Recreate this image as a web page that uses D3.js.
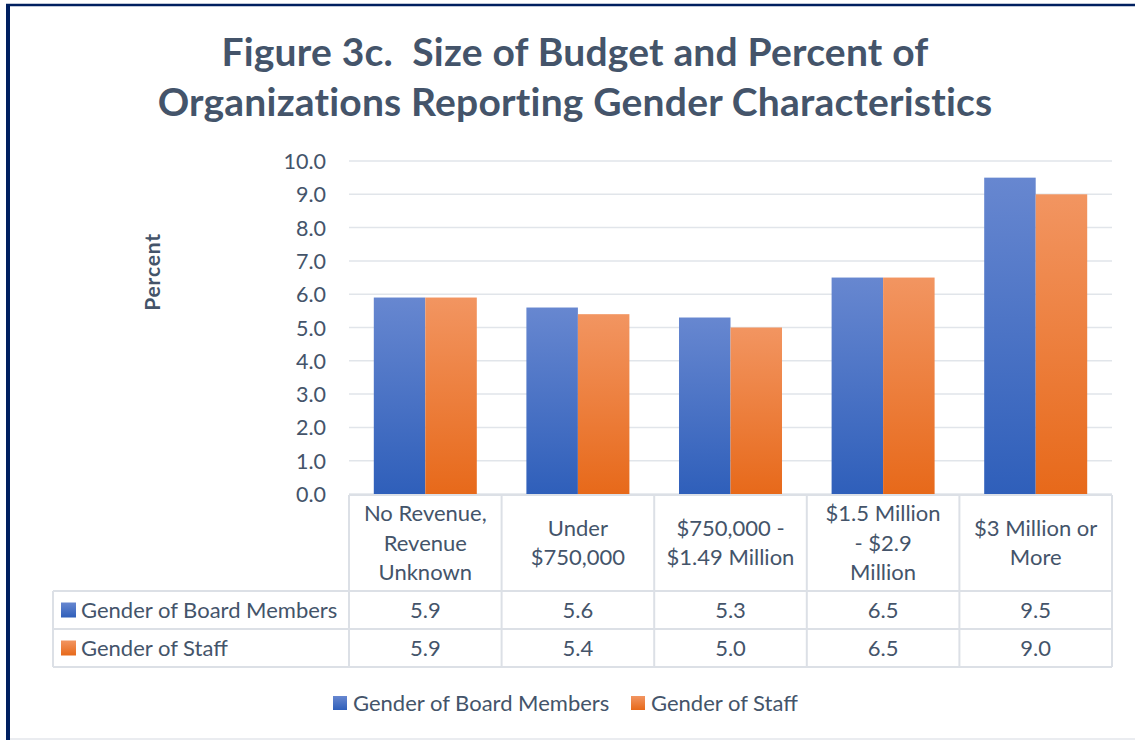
<!DOCTYPE html>
<html>
<head>
<meta charset="utf-8">
<script src="https://cdn.jsdelivr.net/npm/d3@7"></script>
<style>
  html, body { margin: 0; padding: 0; background: #fff; }
  svg { display: block; }
  text { font-family: Lato, "Open Sans", sans-serif; }
</style>
</head>
<body>
<svg id="chart" width="1135" height="740"></svg>
<script>
const categories = [
  ["No Revenue,", "Revenue", "Unknown"],
  ["Under", "$750,000"],
  ["$750,000 -", "$1.49 Million"],
  ["$1.5 Million", "- $2.9", "Million"],
  ["$3 Million or", "More"]
];
const seriesNames = ["Gender of Board Members", "Gender of Staff"];
const boardValues = [5.9, 5.6, 5.3, 6.5, 9.5];
const staffValues = [5.9, 5.4, 5.0, 6.5, 9.0];
const yTicks = [0, 1, 2, 3, 4, 5, 6, 7, 8, 9, 10];
const titleLines = ["Figure 3c.  Size of Budget and Percent of", "Organizations Reporting Gender Characteristics"];

const series = [boardValues, staffValues];
const textColor = "#44546A";
const gridColor = "#E1E5EA";
const fs = 22;

const svg = d3.select("#chart");
const W = 1135, H = 740;

// defs: gradients
const defs = svg.append("defs");
const gradDefs = [
  {id: "gBlue", top: "#6787D0", bottom: "#2F5FBA"},
  {id: "gOrange", top: "#F29561", bottom: "#E7691A"}
];
gradDefs.forEach(g => {
  const lg = defs.append("linearGradient").attr("id", g.id)
    .attr("x1", 0).attr("y1", 0).attr("x2", 0).attr("y2", 1);
  lg.append("stop").attr("offset", "0%").attr("stop-color", g.top);
  lg.append("stop").attr("offset", "100%").attr("stop-color", g.bottom);
});
const fills = ["url(#gBlue)", "url(#gOrange)"];
const legendFills = ["url(#gBlue)", "url(#gOrange)"];

// outer frame
svg.append("rect").attr("x", 0).attr("y", 0).attr("width", W).attr("height", H).attr("fill", "#fff");
svg.append("line").attr("x1", 6).attr("x2", W).attr("y1", 5).attr("y2", 5)
  .attr("stroke", "#002060").attr("stroke-width", 2.5);
svg.append("line").attr("x1", 8).attr("x2", 8).attr("y1", 4).attr("y2", H)
  .attr("stroke", "#002060").attr("stroke-width", 4);
svg.append("line").attr("x1", 10).attr("x2", W).attr("y1", 739).attr("y2", 739)
  .attr("stroke", "#E3E6EB").attr("stroke-width", 1.5);

// title
const title = svg.append("text").attr("text-anchor", "middle")
  .attr("fill", textColor).attr("font-weight", 700).attr("font-size", 39)
  .style("white-space", "pre").attr("letter-spacing", 0.2);
titleLines.forEach((t, i) => {
  title.append("tspan").attr("x", 575).attr("y", 66 + i * 50).text(t);
});

// scales
const plotL = 349, plotR = 1112, plotT = 161, plotB = 494;
const x0 = d3.scaleBand().domain(d3.range(categories.length)).range([plotL, plotR])
  .paddingInner(0.325).paddingOuter(0.1625);
const x1 = d3.scaleBand().domain(d3.range(series.length)).range([0, x0.bandwidth()]);
const y = d3.scaleLinear().domain([0, 10]).range([plotB, plotT]);

// gridlines
svg.append("g").selectAll("line").data(yTicks).join("line")
  .attr("x1", plotL).attr("x2", plotR)
  .attr("y1", d => y(d)).attr("y2", d => y(d))
  .attr("stroke", gridColor).attr("stroke-width", 1.5);

// y axis via d3.axisLeft
const yAxis = d3.axisLeft(y).tickValues(yTicks).tickFormat(d3.format(".1f")).tickSize(0).tickPadding(0);
const yg = svg.append("g").attr("transform", `translate(326,0)`).call(yAxis);
yg.select(".domain").remove();
yg.selectAll("text").attr("fill", textColor).attr("font-size", 21.5)
  .attr("font-family", "Lato, 'Open Sans', sans-serif").attr("dy", "0.35em");

// y title
svg.append("text").attr("transform", "translate(160,272) rotate(-90)")
  .attr("text-anchor", "middle").attr("fill", textColor)
  .attr("font-weight", 700).attr("font-size", 21).attr("letter-spacing", 0.8).text("Percent");

// bars
const groups = svg.append("g").selectAll("g").data(categories).join("g")
  .attr("transform", (d, i) => `translate(${x0(i)},0)`);
groups.selectAll("rect").data((d, i) => series.map((s, j) => ({j, v: s[i]}))).join("rect")
  .attr("x", d => x1(d.j)).attr("width", x1.bandwidth())
  .attr("y", d => y(d.v)).attr("height", d => y(0) - y(d.v))
  .attr("fill", d => fills[d.j]);

// data table
const tblL = 53, tblT = 495, hdrB = 591, rowH = 38;
const tbl = svg.append("g");
const stroke = "#DCE0E6";
const colEdges = [plotL].concat(d3.range(categories.length).map(i => x0(0) - x0.step() * x0.paddingOuter() + x0.step() * (i + 1)));
const tblB = hdrB + rowH * series.length;
colEdges.forEach(xe => {
  tbl.append("line").attr("x1", xe).attr("x2", xe).attr("y1", tblT).attr("y2", tblB)
    .attr("stroke", stroke).attr("stroke-width", 2);
});
tbl.append("line").attr("x1", tblL).attr("x2", tblL).attr("y1", hdrB).attr("y2", tblB)
  .attr("stroke", stroke).attr("stroke-width", 2);
tbl.append("line").attr("x1", plotL).attr("x2", plotR).attr("y1", tblT).attr("y2", tblT)
  .attr("stroke", stroke).attr("stroke-width", 2);
d3.range(series.length + 1).forEach(k => {
  const yy = hdrB + k * rowH;
  tbl.append("line").attr("x1", tblL).attr("x2", plotR).attr("y1", yy).attr("y2", yy)
    .attr("stroke", stroke).attr("stroke-width", 2);
});
// header labels
categories.forEach((lines, i) => {
  const cx = x0(i) + x0.bandwidth() / 2;
  const cy = (tblT + hdrB) / 2;
  const lh = 29.5;
  const t = tbl.append("text").attr("text-anchor", "middle").attr("fill", textColor).attr("font-size", fs);
  lines.forEach((ln, k) => {
    t.append("tspan").attr("x", cx).attr("y", cy + (k - (lines.length - 1) / 2) * lh).attr("dy", "0.35em").text(ln);
  });
});
// rows
series.forEach((s, j) => {
  const cy = hdrB + j * rowH + rowH / 2;
  tbl.append("rect").attr("x", 61).attr("y", cy - 7.5).attr("width", 15).attr("height", 15).attr("fill", legendFills[j]);
  tbl.append("text").attr("x", 81).attr("y", cy).attr("dy", "0.35em").attr("fill", textColor)
    .attr("font-size", fs).text(seriesNames[j]);
  s.forEach((v, i) => {
    tbl.append("text").attr("x", x0(i) + x0.bandwidth() / 2).attr("y", cy).attr("dy", "0.35em")
      .attr("text-anchor", "middle").attr("fill", textColor).attr("font-size", fs).text(d3.format(".1f")(v));
  });
});

// bottom legend
const legX = [333, 631];
seriesNames.forEach((n, j) => {
  const g = svg.append("g").attr("transform", `translate(${legX[j]},703)`);
  g.append("rect").attr("x", 0).attr("y", -7).attr("width", 14).attr("height", 14).attr("fill", legendFills[j]);
  g.append("text").attr("x", 20).attr("y", 0).attr("dy", "0.35em").attr("fill", textColor)
    .attr("font-size", fs).text(n);
});
</script>
</body>
</html>
